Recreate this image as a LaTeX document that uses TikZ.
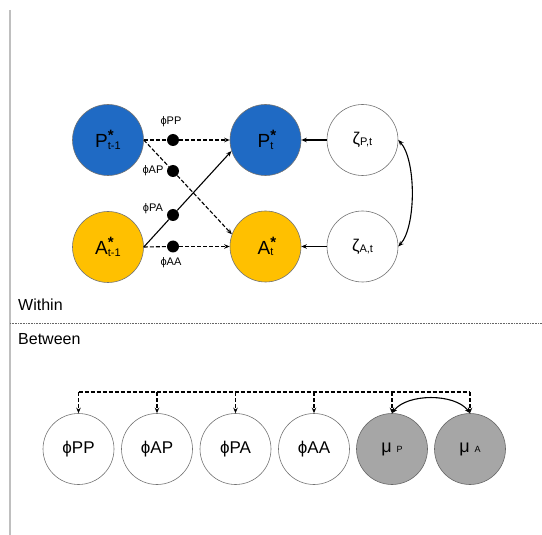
\documentclass[tikz,border=0pt]{standalone}
\usepackage{fontspec}
\setmainfont{Liberation Sans}
\usetikzlibrary{arrows.meta}
\definecolor{pblue}{RGB}{31,106,196}
\definecolor{ayel}{RGB}{255,192,0}
\definecolor{mgray}{RGB}{166,166,166}
\newcommand{\fs}[1]{\fontsize{#1}{#1}\selectfont}
\newcommand{\starlab}[2]{{\fs{19}#1}\makebox[0pt][l]{\raisebox{7pt}{\fs{15}\bfseries *}}\raisebox{-1.5pt}{\fs{11}#2}}
\newcommand{\zlab}[1]{{\fs{17}ζ}\raisebox{-1pt}{\fs{11}#1}}
\newcommand{\mulab}[1]{{\fs{18}μ}\hspace{5pt}{\fs{9}#1}}
\begin{document}
\begin{tikzpicture}[x=1pt,y=-1pt,
  every node/.style={inner sep=0pt},
  big/.style={circle,minimum size=71pt,draw=black!55,line width=0.6pt},
  dotn/.style={circle,fill=black,minimum size=12pt},
  tip/.style={-{Stealth[length=5.5pt,width=4.5pt]}},
  ln/.style={line width=1.1pt},
  conn/.style={ln,tip},
  dsh/.style={dash pattern=on 4pt off 2pt},
  small/.style={font=\fs{11}},
  sect/.style={anchor=west,font=\fs{16}},
  blab/.style={font=\fs{17}}
]
\useasboundingbox (0,0) rectangle (542,535);
% frame lines
\draw[black!25,line width=1.2pt] (10,10) -- (10,535);
\draw[black!60,line width=0.8pt,dash pattern=on 1pt off 0.6pt] (10,323) -- (542,323);
\node[sect] (within) at (18,305) {Within};
\node[sect] (between) at (18,339) {Between};

% within nodes
\node[big,fill=pblue] (P1) at (108,140) {\starlab{P}{t-1}};
\node[big,fill=ayel] (A1) at (108,247) {\starlab{A}{t-1}};
\node[big,fill=pblue] (Pt) at (265.5,140) {\starlab{P}{t}};
\node[big,fill=ayel] (At) at (265.5,246.5) {\starlab{A}{t}};
\node[big,fill=white] (zP) at (362.5,140) {\zlab{P,t}};
\node[big,fill=white] (zA) at (362.5,246.5) {\zlab{A,t}};

\node[dotn] (dPP) at (173,140) {};
\node[dotn] (dAP) at (173,171) {};
\node[dotn] (dPA) at (173,215) {};
\node[dotn] (dAA) at (173,246.5) {};
\node[small] (lPP) at (171,122) {ϕPP};
\node[small] (lAP) at (153,171) {ϕAP};
\node[small] (lPA) at (153,209) {ϕPA};
\node[small] (lAA) at (171,263) {ϕAA};

\draw[ln,dsh] (P1.east) -- (dPP);
\draw[conn,dsh] (dPP) -- (Pt);
\draw[ln,dsh] (P1.east) -- (dAP);
\draw[conn,dsh] (dAP) -- (At.160);
\draw[ln] (A1.east) -- (dPA);
\draw[conn] (dPA) -- (Pt.198);
\draw[ln,dsh] (A1.east) -- (dAA);
\draw[conn,dsh] (dAA) -- (At);
\draw[conn] (zP) -- (Pt);
\draw[conn] (zA) -- (At);
\draw[ln,{Stealth[length=5.5pt,width=4.5pt]}-{Stealth[length=5.5pt,width=4.5pt]}] (zP.east) .. controls +(18,20) and +(18,-20) .. (zA.east);

% between nodes
\node[big,blab] (b1) at (78.5,449) {ϕPP};
\node[big,blab] (b2) at (157,449) {ϕAP};
\node[big,blab] (b3) at (235.5,449) {ϕPA};
\node[big,blab] (b4) at (314,449) {ϕAA};
\node[big,fill=mgray,draw=black!60] (b5) at (392,449) {\mulab{P}};
\node[big,fill=mgray,draw=black!60] (b6) at (470,449) {\mulab{A}};
\coordinate (bar) at (0,392);
\draw[ln,dsh] (b1.north |- bar) -- (b6.north |- bar);
\foreach \n in {b1,b2,b3,b4,b5,b6} \draw[conn,dsh] (\n.north |- bar) -- (\n.north);
\draw[ln,{Stealth[length=5.5pt,width=4.5pt]}-{Stealth[length=5.5pt,width=4.5pt]}] (b5.north) .. controls +(15,-20) and +(-15,-20) .. (b6.north);
\end{tikzpicture}
\end{document}
